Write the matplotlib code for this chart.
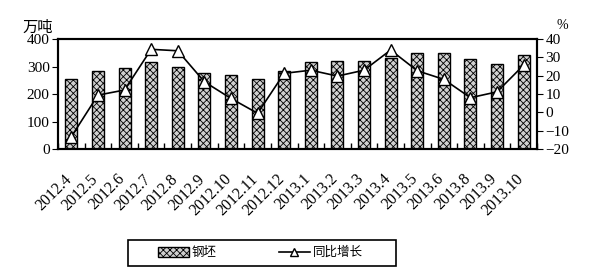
import matplotlib
matplotlib.use("Agg")
import matplotlib.pyplot as plt
from matplotlib.patches import Rectangle
import numpy as np

plt.rcParams['font.family'] = ['Liberation Serif', 'Noto Sans CJK SC']
plt.rcParams['hatch.linewidth'] = 0.6

months = ['2012.4', '2012.5', '2012.6', '2012.7', '2012.8', '2012.9', '2012.10',
          '2012.11', '2012.12', '2013.1', '2013.2', '2013.3', '2013.4', '2013.5',
          '2013.6', '2013.8', '2013.9', '2013.10']
output = [253, 283, 293, 315, 297, 277, 271, 253, 283, 315, 320, 320, 330, 348,
          348, 326, 309, 342]
growth = [-13.3, 9.4, 12.2, 34.4, 33.6, 16.7, 7.6, -0.5, 21.3, 23.0, 19.8, 23.0,
          34.0, 22.7, 18.0, 8.0, 11.2, 25.8]

fig = plt.figure(figsize=(5.95, 2.77), dpi=100)
ax = fig.add_axes([0.0975, 0.462, 0.805, 0.397])
x = np.arange(len(months))

bars = ax.bar(x, output, width=0.45, color='#d0d0d0', edgecolor='black',
              linewidth=1.0, hatch='xxxxx', label='钢坯', zorder=2)
ax.set_xlim(-0.5, len(months) - 0.5)
ax.set_ylim(0, 400)
ax.set_yticks([0, 100, 200, 300, 400])
ax.tick_params(axis='y', direction='out', length=4, labelsize=11, pad=2)
ax.set_xticks(np.arange(len(months) + 1) - 0.5)
ax.set_xticklabels([])
ax.tick_params(axis='x', direction='in', length=4, width=1)
for sp in ax.spines.values():
    sp.set_linewidth(1.5)

# rotated month labels, anchored at their upper right end
for i, m in enumerate(months):
    ax.text(i - 0.3, -0.2, m, rotation=45, ha='right', va='top',
            rotation_mode='anchor', fontsize=11.5,
            transform=ax.get_xaxis_transform(), clip_on=False)

ax2 = ax.twinx()
line, = ax2.plot(x, growth, color='black', linewidth=1.2, marker='^',
                 markersize=9, markerfacecolor='white', markeredgecolor='black',
                 markeredgewidth=1.0, label='同比增长', zorder=3)
ax2.set_ylim(-20, 40)
ax2.set_yticks([-20, -10, 0, 10, 20, 30, 40])
ax2.tick_params(axis='y', direction='out', length=4, labelsize=11, pad=2)
for sp in ax2.spines.values():
    sp.set_linewidth(1.5)

fig.text(0.037, 0.885, '万吨', fontsize=11)
fig.text(0.935, 0.895, '%', fontsize=10)

# legend box
fig.patches.append(Rectangle((0.215, 0.04), 0.45, 0.094, transform=fig.transFigure,
                             fill=False, edgecolor='black', linewidth=1.2))
leg = fig.legend([bars, line], ['钢坯', '同比增长'], ncol=2,
                 loc='center', bbox_to_anchor=(0.437, 0.087),
                 frameon=False, fontsize=9, markerscale=0.7,
                 handlelength=2.5, handleheight=0.8, handletextpad=0.2,
                 columnspacing=5, borderpad=0.2)

fig.savefig('out.png', dpi=100)
